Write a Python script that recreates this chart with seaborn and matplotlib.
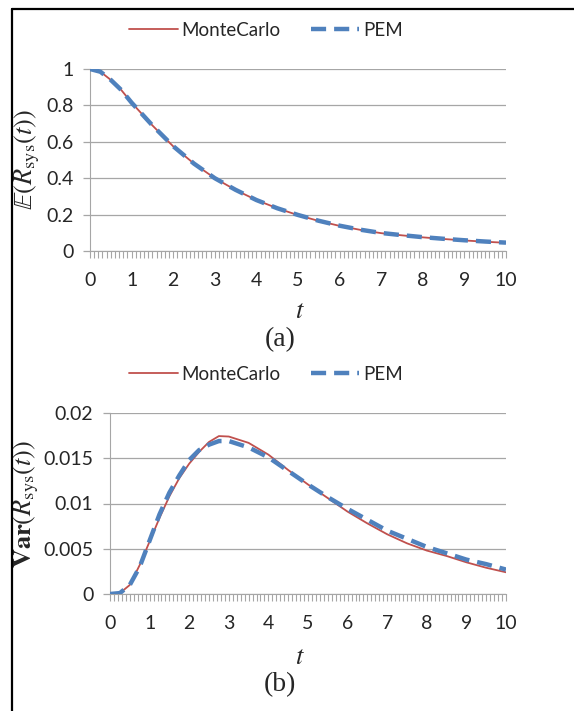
import numpy as np
import pandas as pd
import matplotlib
matplotlib.use("Agg")
import matplotlib.pyplot as plt
import seaborn as sns
from matplotlib.lines import Line2D
from matplotlib.ticker import MultipleLocator

# data
t_mean = [0, 0.25, 0.5, 0.75, 1, 1.5, 2, 2.5, 3, 3.5, 4, 4.5, 5, 5.5, 6, 6.5, 7, 7.5, 8, 8.5, 9, 9.5, 10]
mean_mc = [1.0, 0.985, 0.94, 0.885, 0.815, 0.69, 0.575, 0.48, 0.40, 0.335, 0.28, 0.235, 0.197, 0.165,
           0.138, 0.116, 0.098, 0.086, 0.075, 0.066, 0.058, 0.051, 0.045]
mean_pem = [1.0, 0.985, 0.94, 0.885, 0.815, 0.69, 0.576, 0.48, 0.40, 0.336, 0.28, 0.235, 0.198, 0.166,
            0.139, 0.117, 0.099, 0.087, 0.076, 0.067, 0.059, 0.052, 0.046]

t_var = [0, 0.25, 0.5, 0.75, 1, 1.25, 1.5, 1.75, 2, 2.25, 2.5, 2.75, 3, 3.5, 4, 4.5, 5, 5.5,
         6, 6.5, 7, 7.5, 8, 8.5, 9, 9.5, 10]
var_mc = [0, 0.0001, 0.001, 0.0032, 0.0058, 0.0084, 0.0108, 0.0128, 0.0144, 0.0157, 0.0168, 0.01745,
          0.0174, 0.0167, 0.0154, 0.0137, 0.0121, 0.0106, 0.0091, 0.0078, 0.0066, 0.0056, 0.0048,
          0.0042, 0.0035, 0.0029, 0.0024]
var_pem = [0, 0.0001, 0.001, 0.003, 0.0059, 0.0088, 0.0112, 0.0131, 0.0148, 0.0159, 0.0165, 0.0169,
           0.0169, 0.0162, 0.0151, 0.0136, 0.0121, 0.0107, 0.0094, 0.0082, 0.0070, 0.0061, 0.0052,
           0.0045, 0.0038, 0.0033, 0.0027]

red = "#C0504D"
blue = "#4F81BD"
grid_c = "#A6A6A6"

sns.set_style("white")
plt.rcParams['font.family'] = ['Lato', 'DejaVu Sans']
plt.rcParams['mathtext.fontset'] = 'stix'

fig = plt.figure(figsize=(5.74, 7.11), dpi=100)
ax1 = fig.add_axes([90 / 574, 1 - 251 / 711, 416 / 574, 182 / 711])
ax2 = fig.add_axes([110 / 574, 1 - 594 / 711, 396 / 574, 181 / 711])


def draw(ax, t, mc, pem, ymax, ystep, fmt, ylabel):
    df_mc = pd.DataFrame({"t": t, "v": mc})
    df_pem = pd.DataFrame({"t": t, "v": pem})
    sns.lineplot(data=df_mc, x="t", y="v", ax=ax, color=red, lw=1.3, zorder=3)
    sns.lineplot(data=df_pem, x="t", y="v", ax=ax, color=blue, lw=3.2, zorder=4,
                 dashes=False, linestyle=(0, (3.4, 1.8)))
    ax.set_xlim(0, 10)
    ax.set_ylim(0, ymax)
    yt = np.arange(0, ymax + ystep / 2, ystep)
    ax.set_yticks(yt)
    ax.set_yticklabels([fmt(v) for v in yt])
    ax.set_xticks(range(11))
    ax.xaxis.set_minor_locator(MultipleLocator(0.1))
    ax.tick_params(axis='x', which='both', bottom=True, direction='out', length=5, width=0.8,
                   color=grid_c, labelsize=14, pad=10)
    ax.tick_params(axis='y', left=True, direction='out', length=5, width=0.9, color=grid_c,
                   labelsize=14, pad=7)
    ax.grid(axis='y', color=grid_c, lw=0.9)
    ax.grid(axis='x', visible=False)
    for s in ['top', 'right']:
        ax.spines[s].set_visible(False)
    ax.spines['left'].set_color(grid_c)
    ax.spines['bottom'].set_color(grid_c)
    ax.set_xlabel("")
    ax.set_ylabel(ylabel, fontsize=19, labelpad=2)


def fmt_a(v):
    return "0" if v == 0 else ("1" if abs(v - 1) < 1e-9 else f"{v:.1f}")


def fmt_b(v):
    return "0" if v == 0 else f"{v:g}"


draw(ax1, t_mean, mean_mc, mean_pem, 1.0, 0.2, fmt_a, r'$\mathbb{E}(R_{\mathrm{sys}}(t))$')
draw(ax2, t_var, var_mc, var_pem, 0.02, 0.005, fmt_b, r'$\mathbf{Var}(R_{\mathrm{sys}}(t))$')
ax1.yaxis.set_label_coords(-0.115, 0.5)
ax2.yaxis.set_label_coords(-0.175, 0.5)

handles = [Line2D([], [], color=red, lw=1.3),
           Line2D([], [], color=blue, lw=3.2, linestyle=(0, (3.4, 1.8)))]
for y in [1 - 30 / 711, 1 - 374 / 711]:
    fig.legend(handles, ["MonteCarlo", "PEM"], loc='center', bbox_to_anchor=(266 / 574, y),
               ncol=2, frameon=False, fontsize=13.5, handlelength=2.6, handletextpad=0.2,
               columnspacing=1.6)

for yt, ya, lab in [(310, 340, "(a)"), (657, 685, "(b)")]:
    fig.text(300 / 574, 1 - yt / 711, r'$t$', ha='center', va='center', fontsize=19)
    fig.text(280 / 574, 1 - ya / 711, lab, ha='center', va='center', fontsize=20,
             family='Liberation Serif')

# frame round the figure (left and top edges visible)
fig.add_artist(Line2D([12 / 574, 12 / 574], [0, 1 - 9 / 711], color='black', lw=1.6,
                      transform=fig.transFigure))
fig.add_artist(Line2D([12 / 574, 1], [1 - 9 / 711, 1 - 9 / 711], color='black', lw=1.6,
                      transform=fig.transFigure))

fig.savefig("out.png", dpi=100)
